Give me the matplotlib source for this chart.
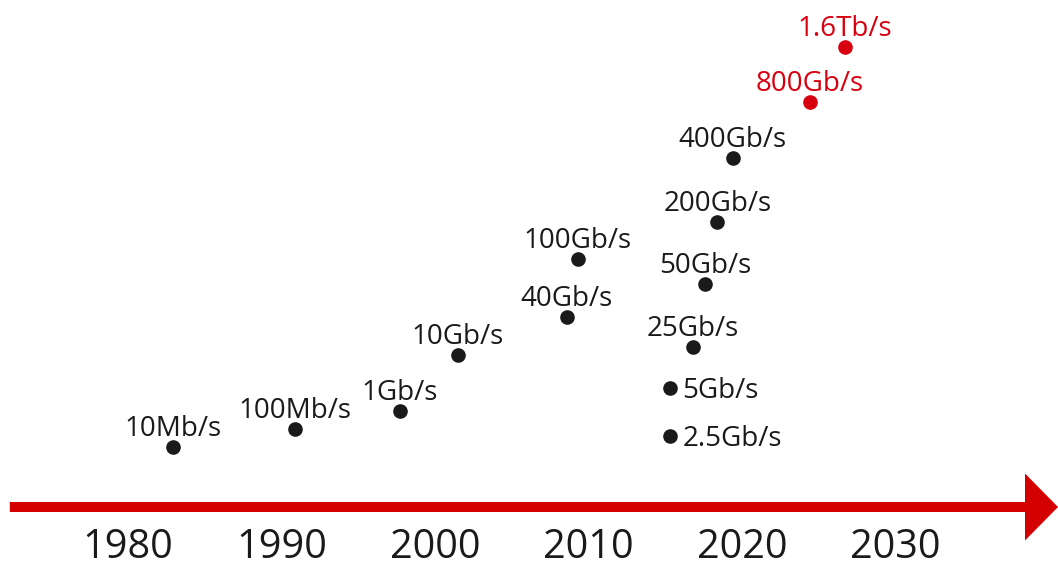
import matplotlib.pyplot as plt

plt.rcParams['font.family'] = ['Open Sans', 'DejaVu Sans']

# ethernet speeds: year introduced, height on the chart, label
years = [1982.9, 1990.9, 1997.7, 2001.5, 2008.6, 2009.3, 2015.3, 2015.3,
         2016.8, 2017.6, 2018.4, 2019.4, 2024.4, 2026.7]
heights = [60, 78, 96, 152, 190, 248, 119, 71, 160, 223, 285, 349, 405, 460]
labels = ["10Mb/s", "100Mb/s", "1Gb/s", "10Gb/s", "40Gb/s", "100Gb/s",
          "5Gb/s", "2.5Gb/s", "25Gb/s", "50Gb/s", "200Gb/s", "400Gb/s",
          "800Gb/s", "1.6Tb/s"]
future = [False] * 12 + [True] * 2
side_labels = ["5Gb/s", "2.5Gb/s"]

tick_years = [1980, 1990, 2000, 2010, 2020, 2030]

black = "#1a1a1a"
red = "#d8000f"

fig = plt.figure(figsize=(10.58, 5.69), dpi=100)
ax = fig.add_axes([0, 0, 1, 1])
ax.set_xlim(1971.66, 2040.59)
ax.set_ylim(-62, 507)
ax.axis("off")

# timeline arrow
ax.arrow(1972.3, 0, 2040.59 - 1972.3, 0, width=10, head_width=67,
         head_length=2.15, length_includes_head=True, color="#d40000", lw=0)

for yr in tick_years:
    ax.text(yr, -51, str(yr), fontsize=28.5, ha="center", va="baseline",
            color=black)

# points and labels
for x, h, lab, fut in zip(years, heights, labels, future):
    c = red if fut else black
    ax.plot(x, h, "o", color=c, markersize=9.5)
    if lab in side_labels:
        ax.annotate(lab, (x, h), xytext=(9, 0), textcoords="offset points",
                    fontsize=20, ha="left", va="center_baseline", color=c)
    else:
        ax.annotate(lab, (x, h), xytext=(0, 8), textcoords="offset points",
                    fontsize=20, ha="center", va="baseline", color=c)

plt.savefig("out.png", dpi=100)
